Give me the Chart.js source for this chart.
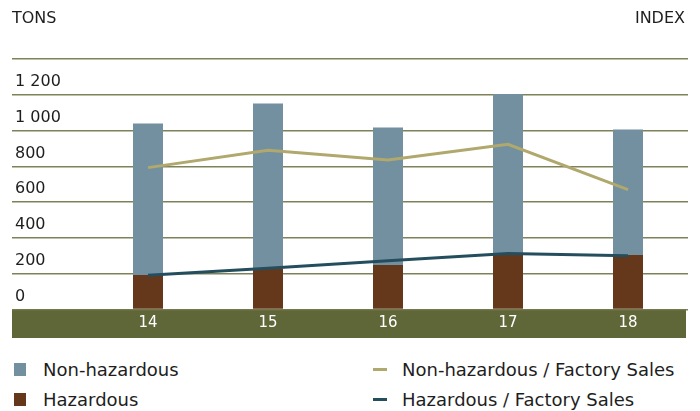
<!DOCTYPE html>
<html>
<head>
<meta charset="utf-8">
<script src="https://cdn.jsdelivr.net/npm/chart.js@4/dist/chart.umd.min.js"></script>
<style>
  html, body { margin: 0; padding: 0; background: #fff; }
  body { width: 700px; height: 411px; position: relative; overflow: hidden;
         font-family: "DejaVu Sans", sans-serif; color: #1e1e1e; }
  #wrap { position: absolute; left: 0; top: 0; width: 700px; height: 340px; }
  .axis-title { position: absolute; top: 8px; font-size: 16px; line-height: 20px; }
  #tons { left: 12px; }
  #index { right: 15px; }
  .item { position: absolute; height: 20px; line-height: 20px; font-size: 18px; white-space: nowrap; }
  .swatch { position: absolute; }
</style>
</head>
<body>
<div id="wrap"><canvas id="chart" width="700" height="340"></canvas></div>
<div class="axis-title" id="tons">TONS</div>
<div class="axis-title" id="index">INDEX</div>
<div id="legend"></div>
<script>
// Years on the category axis
const years = ['14', '15', '16', '17', '18'];
// Waste volumes, tons (stacked bars)
const hazardousTons = [193, 231, 249, 315, 305];
const nonHazardousTons = [846, 920, 768, 890, 701];
// Waste relative to factory sales, index (lines, right axis)
const nonHazardousIndex = [79.3, 89.0, 83.6, 92.3, 67.0];
const hazardousIndex = [19.2, 23.0, 27.2, 31.3, 30.0];
// Left axis tick labels (top gridline unlabeled)
const tonTicks = [0, 200, 400, 600, 800, 1000, 1200, 1400];
const tonTickLabels = ['0', '200', '400', '600', '800', '1 000', '1 200', ''];

const COLORS = {
  nonHaz: 'rgb(114,144,160)',
  haz: 'rgb(101,56,28)',
  nonHazLine: 'rgb(176,168,108)',
  hazLine: 'rgb(36,78,94)',
  band: 'rgb(95,102,56)',
  grid: 'rgba(112,116,70,0.9)'
};

Chart.defaults.font.family = "'DejaVu Sans', sans-serif";

// Olive strip behind the year labels
const axisBand = {
  id: 'axisBand',
  beforeDraw(chart) {
    const { ctx, chartArea, scales } = chart;
    ctx.save();
    ctx.fillStyle = COLORS.band;
    ctx.fillRect(12, chartArea.bottom, chartArea.right - 14, scales.x.bottom - chartArea.bottom);
    ctx.restore();
  }
};

const chart = new Chart(document.getElementById('chart'), {
  data: {
    labels: years,
    datasets: [
      { type: 'bar', label: 'Hazardous', data: hazardousTons, backgroundColor: COLORS.haz,
        yAxisID: 'y', order: 2, barPercentage: 0.25, categoryPercentage: 1, borderWidth: 0 },
      { type: 'bar', label: 'Non-hazardous', data: nonHazardousTons, backgroundColor: COLORS.nonHaz,
        yAxisID: 'y', order: 2, barPercentage: 0.25, categoryPercentage: 1, borderWidth: 0 },
      { type: 'line', label: 'Non-hazardous / Factory Sales', data: nonHazardousIndex,
        borderColor: COLORS.nonHazLine, backgroundColor: COLORS.nonHazLine, borderWidth: 3,
        pointRadius: 0, tension: 0, yAxisID: 'y1', order: 1 },
      { type: 'line', label: 'Hazardous / Factory Sales', data: hazardousIndex,
        borderColor: COLORS.hazLine, backgroundColor: COLORS.hazLine, borderWidth: 3,
        pointRadius: 0, tension: 0, yAxisID: 'y1', order: 1 }
    ]
  },
  options: {
    responsive: false,
    animation: false,
    devicePixelRatio: 1,
    layout: { padding: { top: 59, left: 15, right: 12, bottom: 2 } },
    plugins: { legend: { display: false }, tooltip: { enabled: false } },
    scales: {
      x: {
        stacked: true,
        grid: { display: false, drawTicks: false },
        border: { display: false },
        ticks: { color: '#ffffff', font: { size: 15 }, padding: 5 },
        afterFit(s) { s.height = 28.5; }
      },
      y: {
        stacked: true,
        position: 'left',
        min: 0, max: 1400,
        afterBuildTicks(s) { s.ticks = tonTicks.map(v => ({ value: v })); },
        grid: { color: COLORS.grid, lineWidth: 1.5, drawTicks: true, tickLength: 76 },
        border: { display: false },
        ticks: {
          autoSkip: false, crossAlign: 'far', labelOffset: -13, padding: 0,
          color: '#1e1e1e', font: { size: 16 },
          callback: (v, i) => tonTickLabels[i]
        },
        afterFit(s) { s.width = 73; }
      },
      y1: { display: false, min: 0, max: 140, stacked: false }
    }
  },
  plugins: [axisBand]
});

// Two-column legend below the chart
const legendLayout = [
  { ds: 1, left: 14, top: 360 },
  { ds: 0, left: 14, top: 390 },
  { ds: 2, left: 373, top: 360 },
  { ds: 3, left: 373, top: 390 }
];
const legendEl = document.getElementById('legend');
legendLayout.forEach(({ ds, left, top }) => {
  const d = chart.data.datasets[ds];
  const item = document.createElement('div');
  item.className = 'item';
  item.style.left = left + 'px';
  item.style.top = top + 'px';
  const sw = document.createElement('span');
  sw.className = 'swatch';
  if (d.type === 'bar') {
    Object.assign(sw.style, { left: '0px', top: '3px', width: '12px', height: '13px', background: d.backgroundColor });
  } else {
    Object.assign(sw.style, { left: '0px', top: '8px', width: '14px', height: '3px', background: d.borderColor });
  }
  const txt = document.createElement('span');
  txt.style.position = 'absolute';
  txt.style.left = '29px';
  txt.textContent = d.label;
  item.appendChild(sw);
  item.appendChild(txt);
  legendEl.appendChild(item);
});
</script>
</body>
</html>
